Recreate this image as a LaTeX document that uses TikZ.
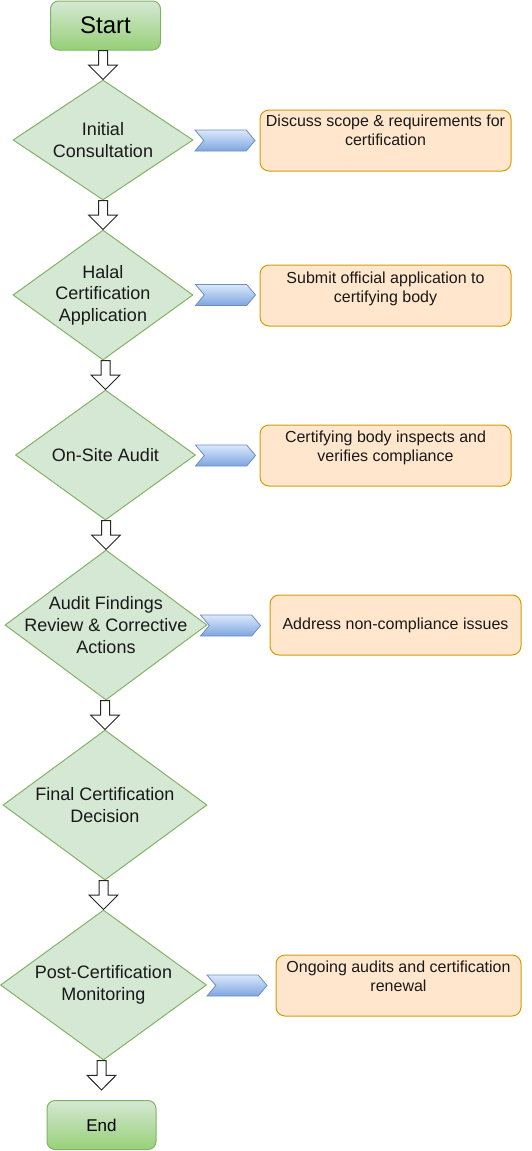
\documentclass[tikz,border=0pt]{standalone}
\usepackage{fontspec}
\setmainfont{Liberation Sans}
\usetikzlibrary{shapes.geometric,shapes.symbols,calc}
\definecolor{gfill}{HTML}{D5E8D4}
\definecolor{gdraw}{HTML}{82B366}
\definecolor{gdark}{HTML}{97D077}
\definecolor{ofill}{HTML}{FFE6CC}
\definecolor{odraw}{HTML}{D79B00}
\definecolor{btop}{HTML}{DAE8FC}
\definecolor{bbot}{HTML}{7EA6E0}
\definecolor{bdraw}{HTML}{6C8EBF}
\tikzset{
  termbox/.style={draw=gdraw, line width=1pt, rounded corners=8pt, top color=gfill, bottom color=gdark, inner sep=0pt},
  decision/.style={diamond, draw=gdraw, fill=gfill, line width=1pt, inner sep=0pt},
  dtext/.style={font=\fontsize{18}{21.6}\selectfont, align=center, inner sep=0pt, text=black!90},
  notebox/.style={draw=odraw, fill=ofill, line width=1pt, rounded corners=9pt, inner sep=0pt},
  ntext/.style={font=\fontsize{16}{19.5}\selectfont, align=center, inner sep=0pt, text=black!90},
  chev/.style={signal, signal from=west, signal to=east, signal pointer angle=100, draw=bdraw, top color=btop, bottom color=bbot, line width=0.8pt, inner sep=0pt, minimum width=60pt, minimum height=21pt},
  hollowarr/.style={draw=black!85, fill=white, line width=1pt, line join=miter}
}
\newcommand\hollowarrow[2]{%
  \path (#1 -| #2) coordinate (has);
  \path ($(has)!.5!(#2)$) coordinate (ham);
  \draw[hollowarr] ($(has)+(-4.5,0)$) -- ($(ham)+(-4.5,0)$) -- ($(ham)+(-14.5,0)$) -- (#2)
    -- ($(ham)+(14.5,0)$) -- ($(ham)+(4.5,0)$) -- ($(has)+(4.5,0)$) -- cycle;
}
\begin{document}
\begin{tikzpicture}[x=1pt,y=-1pt]
\useasboundingbox (0,0) rectangle (531,1151);
% terminals
\node[termbox, minimum width=110pt, minimum height=49pt] (start) at (105.5,25.5) {\fontsize{24}{28}\selectfont Start};
\node[termbox, minimum width=109pt, minimum height=49pt] (end) at (101.5,1125) {\fontsize{17}{20}\selectfont End};
% decisions
\node[decision, minimum width=180pt, minimum height=120pt] (d1) at (103,140) {};
\node[dtext] (d1t) at (d1) {Initial\\Consultation};
\node[decision, minimum width=180pt, minimum height=130pt] (d2) at (103,295) {};
\node[dtext] (d2t) at (d2) {Halal\\Certification\\Application};
\node[decision, minimum width=180pt, minimum height=130pt] (d3) at (105.5,455) {};
\node[dtext] (d3t) at (d3) {On-Site Audit};
\node[decision, minimum width=202pt, minimum height=150pt] (d4) at (106,625) {};
\node[dtext] (d4t) at (d4) {Audit Findings\\Review \& Corrective\\Actions};
\node[decision, minimum width=204pt, minimum height=150pt] (d5) at (105,805) {};
\node[dtext] (d5t) at (d5) {Final Certification\\Decision};
\node[decision, minimum width=206pt, minimum height=150pt] (d6) at (103.5,985) {};
\node[dtext] (d6t) at (d6) {Post-Certification\\Monitoring};
% chevrons
\node[chev] (c1) at (225,140.5) {};
\node[chev] (c2) at (225.5,295) {};
\node[chev] (c3) at (225.5,455.5) {};
\node[chev] (c4) at (230.5,625.5) {};
\node[chev] (c6) at (237,985.5) {};
% notes
\node[notebox, minimum width=251pt, minimum height=61pt] (b1) at (385.5,140.5) {};
\node[ntext, anchor=north] (b1t) at ($(b1.north)+(0,5)$) {Discuss scope \& requirements for\\certification};
\node[notebox, minimum width=251pt, minimum height=61pt] (b2) at (385.5,295.5) {};
\node[ntext, anchor=north] (b2t) at ($(b2.north)+(0,7)$) {Submit official application to\\certifying body};
\node[notebox, minimum width=251pt, minimum height=61pt] (b3) at (385.5,455.5) {};
\node[ntext, anchor=north] (b3t) at ($(b3.north)+(0,6)$) {Certifying body inspects and\\verifies compliance};
\node[notebox, minimum width=251pt, minimum height=60pt] (b4) at (395.5,625) {};
\node[ntext] (b4t) at (b4) {Address non-compliance issues};
\node[notebox, minimum width=245pt, minimum height=61pt] (b6) at (398.5,985.5) {};
\node[ntext, anchor=north] (b6t) at ($(b6.north)+(0,6)$) {Ongoing audits and certification\\renewal};
% hollow arrows
\hollowarrow{start.south}{d1.north}
\hollowarrow{d1.south}{d2.north}
\hollowarrow{d2.south}{d3.north}
\hollowarrow{d3.south}{d4.north}
\hollowarrow{d4.south}{d5.north}
\hollowarrow{d5.south}{d6.north}
\coordinate (endtip) at ($(end.north)+(0,-10)$);
\hollowarrow{d6.south}{endtip}
\end{tikzpicture}
\end{document}
